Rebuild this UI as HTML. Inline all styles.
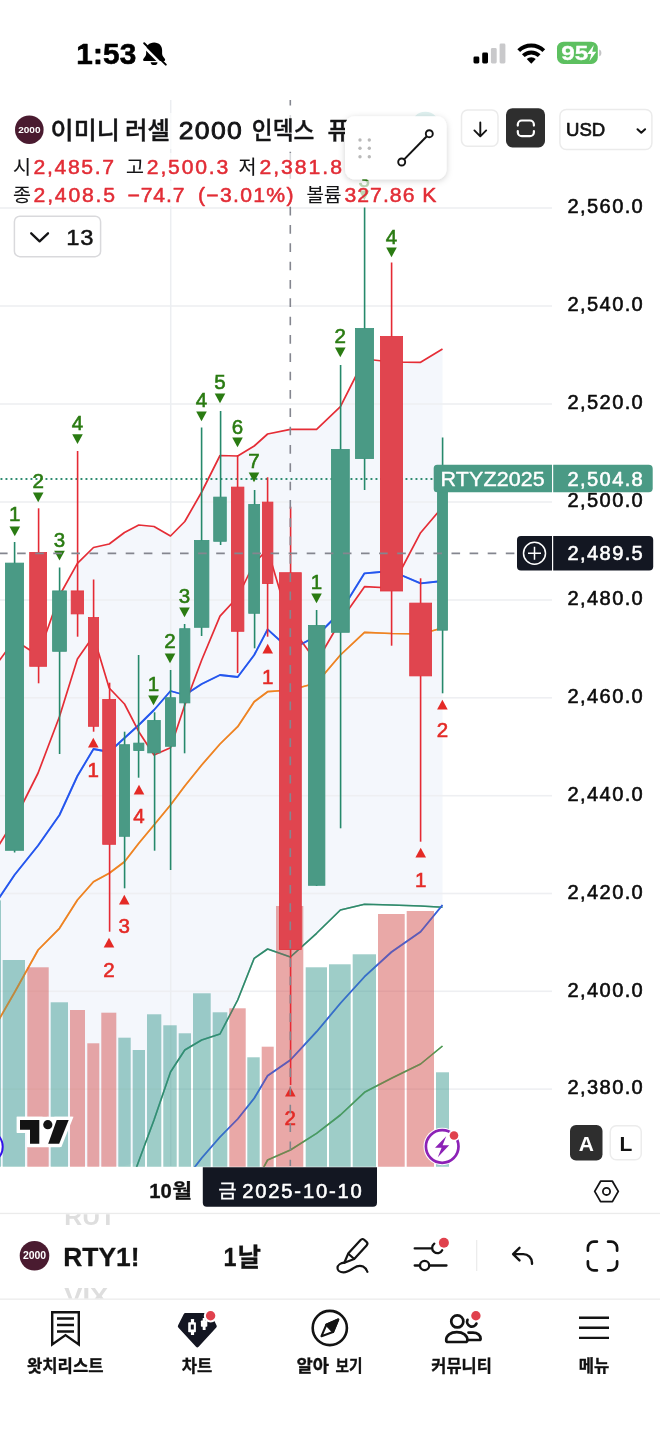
<!DOCTYPE html>
<html lang="ko">
<head>
<meta charset="utf-8">
<title>RTY1! 차트</title>
<style>
html,body{margin:0;padding:0;background:#fff;}
body{width:660px;height:1435px;overflow:hidden;position:relative;font-family:"Liberation Sans", "Noto Sans CJK KR", sans-serif;color:#131722;}
#app{position:absolute;left:0;top:0;width:660px;height:1435px;overflow:hidden;background:#fff;}
svg text{font-family:"Liberation Sans", "Noto Sans CJK KR", sans-serif;}
.abs{position:absolute;}
#chart{position:absolute;left:0;top:0;width:660px;height:1435px;}
</style>
</head>
<body>
<div id="app">
<svg id="chart" width="660" height="1435" viewBox="0 0 660 1435">
<defs>
<clipPath id="plot"><rect x="0" y="100" width="660" height="1066.7"/></clipPath>
<clipPath id="tbclip"><rect x="0" y="1214.2" width="660" height="84.3"/></clipPath>
<filter id="sh" x="-20%" y="-20%" width="140%" height="150%"><feDropShadow dx="0" dy="1.5" stdDeviation="3" flood-color="#000" flood-opacity="0.18"/></filter>
</defs>
<g clip-path="url(#plot)">
<polygon points="-1.0,661.0 14.5,640.0 38.1,655.5 59.5,595.5 77.4,563.3 93.5,547.5 109.2,544.0 124.5,532.5 138.8,525.0 154.0,526.5 170.5,536.0 184.8,521.5 201.7,492.0 220.0,455.5 237.7,456.0 254.2,446.0 267.6,434.0 290.4,429.3 316.6,429.3 340.4,406.7 364.5,359.0 391.5,362.0 420.6,362.3 442.5,349.0 442.5,907.3 420.6,906.0 391.5,905.0 364.5,904.3 340.4,910.0 316.6,933.3 290.4,957.0 267.6,949.0 254.2,958.3 237.7,1000.0 220.0,1034.0 201.7,1040.0 184.8,1050.0 170.5,1072.0 154.0,1120.0 138.8,1161.0 124.5,1166.0 -1.0,1166.0" fill="#f4f7fc"/>
<rect x="0" y="207.2" width="552" height="1.6" fill="#eeeff2"/>
<rect x="0" y="305.2" width="552" height="1.6" fill="#eeeff2"/>
<rect x="0" y="403.2" width="552" height="1.6" fill="#eeeff2"/>
<rect x="0" y="501.2" width="552" height="1.6" fill="#eeeff2"/>
<rect x="0" y="599.2" width="552" height="1.6" fill="#eeeff2"/>
<rect x="0" y="697.0" width="552" height="1.6" fill="#eeeff2"/>
<rect x="0" y="794.9000000000001" width="552" height="1.6" fill="#eeeff2"/>
<rect x="0" y="892.7" width="552" height="1.6" fill="#eeeff2"/>
<rect x="0" y="990.5" width="552" height="1.6" fill="#eeeff2"/>
<rect x="0" y="1088.3" width="552" height="1.6" fill="#eeeff2"/>
<rect x="169.95" y="100" width="1.5" height="1066" fill="#eceef1"/>
<polyline points="124.5,1200.0 138.8,1161.0 154.0,1120.0 170.5,1072.0 184.8,1050.0 201.7,1040.0 220.0,1034.0 237.7,1000.0 254.2,958.3 267.6,949.0 290.4,957.0 316.6,933.3 340.4,910.0 364.5,904.3 391.5,905.0 420.6,906.0 442.5,907.3" fill="none" stroke="#2f8a6b" stroke-width="1.6" stroke-linejoin="round"/>
<polyline points="184.8,1180.0 201.7,1158.0 220.0,1137.0 237.7,1119.0 254.2,1098.3 267.6,1075.7 290.4,1060.0 316.6,1031.7 340.4,1003.3 364.5,976.7 391.5,952.0 420.6,931.7 442.5,905.0" fill="none" stroke="#3560dc" stroke-width="1.7" stroke-linejoin="round"/>
<polyline points="254.2,1185.0 267.6,1160.0 290.4,1150.0 316.6,1133.3 340.4,1115.0 364.5,1092.3 391.5,1078.3 420.6,1064.0 442.5,1046.0" fill="none" stroke="#4d9a52" stroke-width="1.6" stroke-linejoin="round"/>
<polyline points="-1.0,1019.5 14.5,992.5 38.1,950.0 59.5,928.3 77.4,900.0 93.5,881.7 109.2,873.3 124.5,861.7 138.8,843.3 154.0,825.0 170.5,805.0 184.8,786.0 201.7,765.0 220.0,744.0 237.7,726.7 254.2,701.7 267.6,691.7 290.4,690.0 316.6,683.0 340.4,655.0 364.5,632.3 391.5,633.5 420.6,634.0 442.5,628.0" fill="none" stroke="#ee8322" stroke-width="1.7" stroke-linejoin="round"/>
<polyline points="-1.0,898.0 14.5,875.0 38.1,845.5 59.5,815.0 77.4,776.0 93.5,749.0 109.2,752.0 124.5,738.0 138.8,725.0 154.0,710.0 170.5,691.0 184.8,695.0 201.7,684.0 220.0,675.0 237.7,677.0 254.2,655.0 267.6,629.3 290.4,650.0 316.6,636.0 340.4,612.0 364.5,573.3 391.5,571.0 420.6,583.3 442.5,581.0" fill="none" stroke="#2456ee" stroke-width="1.8" stroke-linejoin="round"/>
<polyline points="-1.0,845.0 14.5,820.0 38.1,773.0 59.5,716.5 77.4,659.0 93.5,636.0 109.2,688.0 124.5,704.0 138.8,731.7 154.0,755.0 170.5,747.7 184.8,705.0 201.7,660.0 220.0,616.2 237.7,597.0 254.2,563.0 267.6,549.5 290.4,626.0 316.6,662.0 340.4,621.0 364.5,586.7 391.5,588.0 420.6,532.7 442.5,507.0" fill="none" stroke="#e52d36" stroke-width="1.7" stroke-linejoin="round"/>
<polyline points="-1.0,661.0 14.5,640.0 38.1,655.5 59.5,595.5 77.4,563.3 93.5,547.5 109.2,544.0 124.5,532.5 138.8,525.0 154.0,526.5 170.5,536.0 184.8,521.5 201.7,492.0 220.0,455.5 237.7,456.0 254.2,446.0 267.6,434.0 290.4,429.3 316.6,429.3 340.4,406.7 364.5,359.0 391.5,362.0 420.6,362.3 442.5,349.0" fill="none" stroke="#e52d36" stroke-width="1.7" stroke-linejoin="round"/>
<rect x="2.7" y="960" width="22.3" height="207.0" fill="#3d9b91" fill-opacity="0.5"/>
<rect x="27.3" y="967.3" width="21.4" height="199.7" fill="#d3514f" fill-opacity="0.5"/>
<rect x="50.7" y="1002.3" width="17.3" height="164.7" fill="#3d9b91" fill-opacity="0.5"/>
<rect x="70" y="1010" width="15.0" height="157.0" fill="#d3514f" fill-opacity="0.5"/>
<rect x="87.3" y="1043.3" width="12.0" height="123.7" fill="#d3514f" fill-opacity="0.5"/>
<rect x="101.3" y="1012.7" width="15.0" height="154.3" fill="#d3514f" fill-opacity="0.5"/>
<rect x="118.3" y="1037.7" width="12.4" height="129.3" fill="#3d9b91" fill-opacity="0.5"/>
<rect x="132.7" y="1050" width="12.3" height="117.0" fill="#3d9b91" fill-opacity="0.5"/>
<rect x="147" y="1014.3" width="14.3" height="152.7" fill="#3d9b91" fill-opacity="0.5"/>
<rect x="163.3" y="1025.3" width="13.4" height="141.7" fill="#3d9b91" fill-opacity="0.5"/>
<rect x="178.7" y="1033.3" width="12.3" height="133.7" fill="#3d9b91" fill-opacity="0.5"/>
<rect x="193" y="993.3" width="17.7" height="173.7" fill="#3d9b91" fill-opacity="0.5"/>
<rect x="212.7" y="1012.3" width="14.6" height="154.7" fill="#3d9b91" fill-opacity="0.5"/>
<rect x="229.3" y="1008.3" width="16.4" height="158.7" fill="#d3514f" fill-opacity="0.5"/>
<rect x="247.3" y="1057.3" width="12.4" height="109.7" fill="#3d9b91" fill-opacity="0.5"/>
<rect x="261.7" y="1046.7" width="12.0" height="120.3" fill="#d3514f" fill-opacity="0.5"/>
<rect x="276" y="906" width="27.3" height="261.0" fill="#d3514f" fill-opacity="0.5"/>
<rect x="305.7" y="967.3" width="21.3" height="199.7" fill="#3d9b91" fill-opacity="0.5"/>
<rect x="329" y="964.3" width="21.7" height="202.7" fill="#3d9b91" fill-opacity="0.5"/>
<rect x="352.7" y="954.3" width="23.3" height="212.7" fill="#3d9b91" fill-opacity="0.5"/>
<rect x="378" y="914" width="26.7" height="253.0" fill="#d3514f" fill-opacity="0.5"/>
<rect x="406.7" y="911" width="27.3" height="256.0" fill="#d3514f" fill-opacity="0.5"/>
<rect x="436" y="1072.3" width="13.0" height="94.7" fill="#3d9b91" fill-opacity="0.5"/>
<rect x="0" y="900.4" width="1" height="266.6" fill="#3d9b91" fill-opacity="0.5"/>
<g opacity="0.5">
<polyline points="124.5,1200.0 138.8,1161.0 154.0,1120.0 170.5,1072.0 184.8,1050.0 201.7,1040.0 220.0,1034.0 237.7,1000.0 254.2,958.3 267.6,949.0 290.4,957.0 316.6,933.3 340.4,910.0 364.5,904.3 391.5,905.0 420.6,906.0 442.5,907.3" fill="none" stroke="#2f8a6b" stroke-width="1.6" stroke-linejoin="round"/>
<polyline points="184.8,1180.0 201.7,1158.0 220.0,1137.0 237.7,1119.0 254.2,1098.3 267.6,1075.7 290.4,1060.0 316.6,1031.7 340.4,1003.3 364.5,976.7 391.5,952.0 420.6,931.7 442.5,905.0" fill="none" stroke="#3560dc" stroke-width="1.7" stroke-linejoin="round"/>
<polyline points="254.2,1185.0 267.6,1160.0 290.4,1150.0 316.6,1133.3 340.4,1115.0 364.5,1092.3 391.5,1078.3 420.6,1064.0 442.5,1046.0" fill="none" stroke="#4d9a52" stroke-width="1.6" stroke-linejoin="round"/>
<polyline points="-1.0,1019.5 14.5,992.5 38.1,950.0 59.5,928.3 77.4,900.0 93.5,881.7 109.2,873.3 124.5,861.7 138.8,843.3 154.0,825.0 170.5,805.0 184.8,786.0 201.7,765.0 220.0,744.0 237.7,726.7 254.2,701.7 267.6,691.7 290.4,690.0 316.6,683.0 340.4,655.0 364.5,632.3 391.5,633.5 420.6,634.0 442.5,628.0" fill="none" stroke="#ee8322" stroke-width="1.7" stroke-linejoin="round"/>
<polyline points="-1.0,898.0 14.5,875.0 38.1,845.5 59.5,815.0 77.4,776.0 93.5,749.0 109.2,752.0 124.5,738.0 138.8,725.0 154.0,710.0 170.5,691.0 184.8,695.0 201.7,684.0 220.0,675.0 237.7,677.0 254.2,655.0 267.6,629.3 290.4,650.0 316.6,636.0 340.4,612.0 364.5,573.3 391.5,571.0 420.6,583.3 442.5,581.0" fill="none" stroke="#2456ee" stroke-width="1.8" stroke-linejoin="round"/>
</g>
<line x1="0.5" y1="479" x2="436" y2="479" stroke="#2f8b70" stroke-width="1.8" stroke-dasharray="1.9 3.1"/>
<rect x="13.80" y="542" width="1.6" height="310.5" fill="#26896b"/>
<rect x="5.40" y="563.10" width="18.2" height="287.2" fill="#4a9a85" stroke="#3d947c" stroke-width="0.8"/>
<rect x="37.80" y="508.3" width="1.6" height="175.0" fill="#e52a34"/>
<rect x="29.70" y="552.40" width="16.9" height="113.9" fill="#e0454f" stroke="#e3343e" stroke-width="0.8"/>
<rect x="58.80" y="567.5" width="1.6" height="186.5" fill="#26896b"/>
<rect x="52.60" y="590.90" width="13.8" height="60.4" fill="#4a9a85" stroke="#3d947c" stroke-width="0.8"/>
<rect x="76.80" y="451" width="1.6" height="185.7" fill="#e52a34"/>
<rect x="71.20" y="590.90" width="12.4" height="23.0" fill="#e0454f" stroke="#e3343e" stroke-width="0.8"/>
<rect x="92.80" y="579.5" width="1.6" height="152.2" fill="#e52a34"/>
<rect x="88.40" y="617.60" width="10.2" height="108.7" fill="#e0454f" stroke="#e3343e" stroke-width="0.8"/>
<rect x="108.80" y="682.7" width="1.6" height="249.0" fill="#e52a34"/>
<rect x="102.70" y="699.40" width="12.9" height="144.9" fill="#e0454f" stroke="#e3343e" stroke-width="0.8"/>
<rect x="123.80" y="731.7" width="1.6" height="156.6" fill="#26896b"/>
<rect x="119.40" y="744.70" width="10.2" height="91.6" fill="#4a9a85" stroke="#3d947c" stroke-width="0.8"/>
<rect x="137.80" y="655" width="1.6" height="122.7" fill="#26896b"/>
<rect x="133.70" y="743.10" width="10.2" height="7.5" fill="#4a9a85" stroke="#3d947c" stroke-width="0.8"/>
<rect x="153.80" y="712.3" width="1.6" height="138.4" fill="#26896b"/>
<rect x="147.70" y="720.40" width="12.6" height="32.5" fill="#4a9a85" stroke="#3d947c" stroke-width="0.8"/>
<rect x="169.80" y="670" width="1.6" height="200.0" fill="#26896b"/>
<rect x="165.40" y="697.70" width="10.2" height="48.6" fill="#4a9a85" stroke="#3d947c" stroke-width="0.8"/>
<rect x="183.80" y="624" width="1.6" height="129.3" fill="#26896b"/>
<rect x="179.70" y="628.70" width="10.2" height="74.2" fill="#4a9a85" stroke="#3d947c" stroke-width="0.8"/>
<rect x="200.80" y="427.5" width="1.6" height="208.5" fill="#26896b"/>
<rect x="194.40" y="540.40" width="14.5" height="86.9" fill="#4a9a85" stroke="#3d947c" stroke-width="0.8"/>
<rect x="219.80" y="411" width="1.6" height="134.0" fill="#26896b"/>
<rect x="213.70" y="497.10" width="12.6" height="44.2" fill="#4a9a85" stroke="#3d947c" stroke-width="0.8"/>
<rect x="236.80" y="455" width="1.6" height="218.0" fill="#e52a34"/>
<rect x="231.40" y="487.10" width="12.5" height="144.2" fill="#e0454f" stroke="#e3343e" stroke-width="0.8"/>
<rect x="253.80" y="490" width="1.6" height="158.3" fill="#26896b"/>
<rect x="248.70" y="504.40" width="10.9" height="108.9" fill="#4a9a85" stroke="#3d947c" stroke-width="0.8"/>
<rect x="266.80" y="477.3" width="1.6" height="159.4" fill="#e52a34"/>
<rect x="262.40" y="502.10" width="10.5" height="81.5" fill="#e0454f" stroke="#e3343e" stroke-width="0.8"/>
<rect x="289.80" y="506.7" width="1.6" height="578.3" fill="#e52a34"/>
<rect x="279.40" y="572.70" width="21.9" height="376.9" fill="#e0454f" stroke="#e3343e" stroke-width="0.8"/>
<rect x="315.80" y="610" width="1.6" height="276.0" fill="#26896b"/>
<rect x="308.40" y="625.40" width="16.5" height="259.9" fill="#4a9a85" stroke="#3d947c" stroke-width="0.8"/>
<rect x="339.80" y="365" width="1.6" height="463.3" fill="#26896b"/>
<rect x="331.40" y="449.40" width="17.9" height="182.9" fill="#4a9a85" stroke="#3d947c" stroke-width="0.8"/>
<rect x="363.80" y="207.5" width="1.6" height="282.5" fill="#26896b"/>
<rect x="355.40" y="328.40" width="18.2" height="130.2" fill="#4a9a85" stroke="#3d947c" stroke-width="0.8"/>
<rect x="390.80" y="262.5" width="1.6" height="383.2" fill="#e52a34"/>
<rect x="380.40" y="336.40" width="22.2" height="254.6" fill="#e0454f" stroke="#e3343e" stroke-width="0.8"/>
<rect x="419.80" y="578.3" width="1.6" height="263.4" fill="#e52a34"/>
<rect x="409.70" y="603.10" width="21.9" height="72.8" fill="#e0454f" stroke="#e3343e" stroke-width="0.8"/>
<rect x="441.80" y="437.5" width="1.6" height="255.8" fill="#26896b"/>
<rect x="437.50" y="479.40" width="10.0" height="150.8" fill="#4a9a85" stroke="#3d947c" stroke-width="0.8"/>
<text x="14.8" y="521.4000000000001" text-anchor="middle" font-size="20.5" fill="#2a7b12" stroke="#2a7b12" stroke-width="0.6" class="td">1</text>
<polygon points="9.5,526.4 20.1,526.4 14.8,536.2" fill="#2a7b12"/>
<text x="38.2" y="487.8" text-anchor="middle" font-size="20.5" fill="#2a7b12" stroke="#2a7b12" stroke-width="0.6" class="td">2</text>
<polygon points="32.900000000000006,492.4 43.5,492.4 38.2,502.2" fill="#2a7b12"/>
<text x="59.5" y="547.2" text-anchor="middle" font-size="20.5" fill="#2a7b12" stroke="#2a7b12" stroke-width="0.6" class="td">3</text>
<polygon points="54.2,550.8 64.8,550.8 59.5,560.6" fill="#2a7b12"/>
<text x="77.5" y="430.4" text-anchor="middle" font-size="20.5" fill="#2a7b12" stroke="#2a7b12" stroke-width="0.6" class="td">4</text>
<polygon points="72.2,434.2 82.8,434.2 77.5,444.0" fill="#2a7b12"/>
<text x="153.5" y="691.2" text-anchor="middle" font-size="20.5" fill="#2a7b12" stroke="#2a7b12" stroke-width="0.6" class="td">1</text>
<polygon points="148.2,695.4 158.8,695.4 153.5,705.2" fill="#2a7b12"/>
<text x="170" y="648.2" text-anchor="middle" font-size="20.5" fill="#2a7b12" stroke="#2a7b12" stroke-width="0.6" class="td">2</text>
<polygon points="164.7,653.4 175.3,653.4 170,663.2" fill="#2a7b12"/>
<text x="184.5" y="603.2" text-anchor="middle" font-size="20.5" fill="#2a7b12" stroke="#2a7b12" stroke-width="0.6" class="td">3</text>
<polygon points="179.2,607.4 189.8,607.4 184.5,617.2" fill="#2a7b12"/>
<text x="201.5" y="407.2" text-anchor="middle" font-size="20.5" fill="#2a7b12" stroke="#2a7b12" stroke-width="0.6" class="td">4</text>
<polygon points="196.2,411.4 206.8,411.4 201.5,421.2" fill="#2a7b12"/>
<text x="220" y="389.2" text-anchor="middle" font-size="20.5" fill="#2a7b12" stroke="#2a7b12" stroke-width="0.6" class="td">5</text>
<polygon points="214.7,393.4 225.3,393.4 220,403.2" fill="#2a7b12"/>
<text x="237.5" y="434.2" text-anchor="middle" font-size="20.5" fill="#2a7b12" stroke="#2a7b12" stroke-width="0.6" class="td">6</text>
<polygon points="232.2,437.4 242.8,437.4 237.5,447.2" fill="#2a7b12"/>
<text x="254" y="468.2" text-anchor="middle" font-size="20.5" fill="#2a7b12" stroke="#2a7b12" stroke-width="0.6" class="td">7</text>
<polygon points="248.7,472.4 259.3,472.4 254,482.2" fill="#2a7b12"/>
<text x="316.5" y="589.2" text-anchor="middle" font-size="20.5" fill="#2a7b12" stroke="#2a7b12" stroke-width="0.6" class="td">1</text>
<polygon points="311.2,593.4 321.8,593.4 316.5,603.2" fill="#2a7b12"/>
<text x="340.3" y="343.2" text-anchor="middle" font-size="20.5" fill="#2a7b12" stroke="#2a7b12" stroke-width="0.6" class="td">2</text>
<polygon points="335.0,347.4 345.6,347.4 340.3,357.2" fill="#2a7b12"/>
<text x="364.3" y="187.2" text-anchor="middle" font-size="20.5" fill="#2a7b12" stroke="#2a7b12" stroke-width="0.6" class="td">3</text>
<polygon points="359.0,190.4 369.6,190.4 364.3,200.2" fill="#2a7b12"/>
<text x="391.5" y="244.2" text-anchor="middle" font-size="20.5" fill="#2a7b12" stroke="#2a7b12" stroke-width="0.6" class="td">4</text>
<polygon points="386.2,247.4 396.8,247.4 391.5,257.2" fill="#2a7b12"/>
<polygon points="88.0,747.6 98.6,747.6 93.3,737.8" fill="#e42a26"/>
<text x="93.3" y="777.2" text-anchor="middle" font-size="20.5" fill="#e42a26" stroke="#e42a26" stroke-width="0.6" class="td">1</text>
<polygon points="103.7,947.6 114.3,947.6 109,937.8" fill="#e42a26"/>
<text x="109" y="977.2" text-anchor="middle" font-size="20.5" fill="#e42a26" stroke="#e42a26" stroke-width="0.6" class="td">2</text>
<polygon points="119.0,904.6 129.6,904.6 124.3,894.8" fill="#e42a26"/>
<text x="124.3" y="933.2" text-anchor="middle" font-size="20.5" fill="#e42a26" stroke="#e42a26" stroke-width="0.6" class="td">3</text>
<polygon points="133.7,794.6 144.3,794.6 139,784.8" fill="#e42a26"/>
<text x="139" y="823.2" text-anchor="middle" font-size="20.5" fill="#e42a26" stroke="#e42a26" stroke-width="0.6" class="td">4</text>
<polygon points="262.4,653.6 273.0,653.6 267.7,643.8" fill="#e42a26"/>
<text x="267.7" y="684.2" text-anchor="middle" font-size="20.5" fill="#e42a26" stroke="#e42a26" stroke-width="0.6" class="td">1</text>
<polygon points="285.0,1096.6 295.6,1096.6 290.3,1086.8" fill="#e42a26"/>
<text x="290.3" y="1125.2" text-anchor="middle" font-size="20.5" fill="#e42a26" stroke="#e42a26" stroke-width="0.6" class="td">2</text>
<polygon points="415.4,857.6 426.0,857.6 420.7,847.8" fill="#e42a26"/>
<text x="420.7" y="887.2" text-anchor="middle" font-size="20.5" fill="#e42a26" stroke="#e42a26" stroke-width="0.6" class="td">1</text>
<polygon points="437.09999999999997,709.6 447.7,709.6 442.4,699.8" fill="#e42a26"/>
<text x="442.4" y="737.2" text-anchor="middle" font-size="20.5" fill="#e42a26" stroke="#e42a26" stroke-width="0.6" class="td">2</text>
<line x1="290.3" y1="96.7" x2="290.3" y2="1166" stroke="#84868f" stroke-width="1.6" stroke-dasharray="8.7 9.63"/>
<line x1="-1" y1="553.4" x2="517" y2="553.4" stroke="#84868f" stroke-width="1.6" stroke-dasharray="8.6 9.5"/>
</g>
<!--AXIS-->
<text transform="translate(567.6,213.3) scale(1.03,1)" font-size="19.5" fill="#0c0c0c" stroke="#0c0c0c" stroke-width="0.55" stroke-linejoin="round" textLength="73.01" lengthAdjust="spacing" >2,560.0</text>
<text transform="translate(567.6,311.3) scale(1.03,1)" font-size="19.5" fill="#0c0c0c" stroke="#0c0c0c" stroke-width="0.55" stroke-linejoin="round" textLength="73.01" lengthAdjust="spacing" >2,540.0</text>
<text transform="translate(567.6,409.3) scale(1.03,1)" font-size="19.5" fill="#0c0c0c" stroke="#0c0c0c" stroke-width="0.55" stroke-linejoin="round" textLength="73.01" lengthAdjust="spacing" >2,520.0</text>
<text transform="translate(567.6,507.3) scale(1.03,1)" font-size="19.5" fill="#0c0c0c" stroke="#0c0c0c" stroke-width="0.55" stroke-linejoin="round" textLength="73.01" lengthAdjust="spacing" >2,500.0</text>
<text transform="translate(567.6,605.3) scale(1.03,1)" font-size="19.5" fill="#0c0c0c" stroke="#0c0c0c" stroke-width="0.55" stroke-linejoin="round" textLength="73.01" lengthAdjust="spacing" >2,480.0</text>
<text transform="translate(567.6,703.0999999999999) scale(1.03,1)" font-size="19.5" fill="#0c0c0c" stroke="#0c0c0c" stroke-width="0.55" stroke-linejoin="round" textLength="73.01" lengthAdjust="spacing" >2,460.0</text>
<text transform="translate(567.6,801.0) scale(1.03,1)" font-size="19.5" fill="#0c0c0c" stroke="#0c0c0c" stroke-width="0.55" stroke-linejoin="round" textLength="73.01" lengthAdjust="spacing" >2,440.0</text>
<text transform="translate(567.6,898.8) scale(1.03,1)" font-size="19.5" fill="#0c0c0c" stroke="#0c0c0c" stroke-width="0.55" stroke-linejoin="round" textLength="73.01" lengthAdjust="spacing" >2,420.0</text>
<text transform="translate(567.6,996.5999999999999) scale(1.03,1)" font-size="19.5" fill="#0c0c0c" stroke="#0c0c0c" stroke-width="0.55" stroke-linejoin="round" textLength="73.01" lengthAdjust="spacing" >2,400.0</text>
<text transform="translate(567.6,1094.3999999999999) scale(1.03,1)" font-size="19.5" fill="#0c0c0c" stroke="#0c0c0c" stroke-width="0.55" stroke-linejoin="round" textLength="73.01" lengthAdjust="spacing" >2,380.0</text>
<text transform="translate(76.2,63.7) scale(1.04,1)" font-size="28.6" fill="#000" stroke="#000" stroke-width="0.6" stroke-linejoin="round" font-weight="bold" textLength="57.69" lengthAdjust="spacing" >1:53</text>
<g transform="translate(140.45,40.34) scale(1.14,1.03)" fill="#000">
<path d="M12 2C7.5 2 5 5.5 5 9.500V13c0 2-1.500 3.500-2.500 5-.5 1 0 2 1.300 2H20.200c1.300 0 1.800-1 1.300-2-1-1.500-2.500-3-2.500-5V9.500C19 5.500 16.500 2 12 2z"/>
<path d="M9 21.200h6c0 1.800-1.300 2.800-3 2.800s-3-1-3-2.800z"/>
</g>
<path d="M142.600 45.300L163.800 66.600" stroke="#fff" stroke-width="2.600" fill="none"/>
<path d="M144.200 43.300L165.800 64.600" stroke="#000" stroke-width="2" fill="none" stroke-linecap="round"/>
<rect x="473.5" y="56.5" width="5.8" height="7" rx="1.4" fill="#000"/>
<rect x="482.2" y="52.5" width="5.8" height="11" rx="1.4" fill="#000"/>
<rect x="490.9" y="48" width="5.8" height="15.500" rx="1.4" fill="#c9c9cb"/>
<rect x="499.600" y="43.5" width="5.8" height="20" rx="1.4" fill="#c9c9cb"/>
<g fill="none" stroke="#000" stroke-linecap="butt">
<path d="M518.700 50.700a17.800 17.800 0 0 1 25.100 0" stroke-width="3.900"/>
<path d="M523.300 55.700a11.300 11.300 0 0 1 15.900 0" stroke-width="3.900"/>
</g>
<path d="M531.250 63.700l-4.500-4.600a6.400 6.400 0 0 1 9 0z" fill="#000"/>
<rect x="557" y="41.700" width="40.800" height="22.300" rx="6.500" fill="#5dc060"/>
<path d="M599.200 49.500c1.500.5 2.200 1.800 2.200 3.400s-.7 2.900-2.200 3.400z" fill="#c4c4c6"/>
<text x="561.2" y="60.2" font-size="20" fill="#fff" stroke="#fff" stroke-width="0.3" stroke-linejoin="round" font-weight="bold" textLength="27.00" lengthAdjust="spacingAndGlyphs" >95</text>
<path d="M593.800 45l-6.600 9h4l-1.700 7 6.800-9.300h-4.100z" fill="#fff"/>
<rect x="10" y="113" width="340" height="36" fill="#fff" opacity="0.68"/>
<rect x="10" y="153" width="340" height="26" fill="#fff" opacity="0.68"/>
<rect x="10" y="181" width="432" height="25" fill="#fff" opacity="0.68"/>
<circle cx="29.3" cy="129.7" r="14.3" fill="#4a1b30"/>
<text x="18.2" y="133.3" font-size="9.8" fill="#fff" font-weight="bold" textLength="22.30" lengthAdjust="spacingAndGlyphs" >2000</text>
<text x="50.6" y="139.3" font-size="24" fill="#141416" stroke="#141416" stroke-width="0.4" stroke-linejoin="round" font-weight="500" textLength="69.30" lengthAdjust="spacingAndGlyphs" >이미니</text>
<text x="125.1" y="139.3" font-size="24" fill="#141416" stroke="#141416" stroke-width="0.4" stroke-linejoin="round" font-weight="500" textLength="45.00" lengthAdjust="spacingAndGlyphs" >러셀</text>
<text transform="translate(178.8,139.2) scale(1.08,1)" font-size="24.6" fill="#141416" stroke="#141416" stroke-width="0.85" stroke-linejoin="round" textLength="58.33" lengthAdjust="spacing" >2000</text>
<text x="251.8" y="139.3" font-size="24" fill="#141416" stroke="#141416" stroke-width="0.4" stroke-linejoin="round" font-weight="500" textLength="62.50" lengthAdjust="spacingAndGlyphs" >인덱스</text>
<text x="327.5" y="139.3" font-size="24" fill="#141416" stroke="#141416" stroke-width="0.4" stroke-linejoin="round" font-weight="500" textLength="22.30" lengthAdjust="spacingAndGlyphs" >퓨</text>
<text x="13" y="173.7" font-size="19.5" fill="#141416" stroke="#141416" stroke-width="0.15" stroke-linejoin="round" textLength="18.00" lengthAdjust="spacingAndGlyphs" >시</text>
<text transform="translate(33.6,173.7) scale(1.07,1)" font-size="19.8" fill="#e22d36" stroke="#e22d36" stroke-width="0.5" stroke-linejoin="round" textLength="75.23" lengthAdjust="spacing" >2,485.7</text>
<text x="126" y="173.7" font-size="19.5" fill="#141416" stroke="#141416" stroke-width="0.15" stroke-linejoin="round" textLength="18.00" lengthAdjust="spacingAndGlyphs" >고</text>
<text transform="translate(146.8,173.7) scale(1.07,1)" font-size="19.8" fill="#e22d36" stroke="#e22d36" stroke-width="0.5" stroke-linejoin="round" textLength="76.17" lengthAdjust="spacing" >2,500.3</text>
<text x="238.5" y="173.7" font-size="19.5" fill="#141416" stroke="#141416" stroke-width="0.15" stroke-linejoin="round" textLength="18.00" lengthAdjust="spacingAndGlyphs" >저</text>
<text transform="translate(259.5,173.7) scale(1.07,1)" font-size="19.8" fill="#e22d36" stroke="#e22d36" stroke-width="0.5" stroke-linejoin="round" textLength="77.10" lengthAdjust="spacing" >2,381.8</text>
<text x="13" y="201.8" font-size="19.5" fill="#141416" stroke="#141416" stroke-width="0.15" stroke-linejoin="round" textLength="18.00" lengthAdjust="spacingAndGlyphs" >종</text>
<text transform="translate(33.6,201.8) scale(1.07,1)" font-size="19.8" fill="#e22d36" stroke="#e22d36" stroke-width="0.5" stroke-linejoin="round" textLength="76.17" lengthAdjust="spacing" >2,408.5</text>
<text transform="translate(127.5,201.8) scale(1.07,1)" font-size="19.8" fill="#e22d36" stroke="#e22d36" stroke-width="0.5" stroke-linejoin="round" textLength="53.27" lengthAdjust="spacing" >−74.7</text>
<text transform="translate(198,201.8) scale(1.07,1)" font-size="19.8" fill="#e22d36" stroke="#e22d36" stroke-width="0.5" stroke-linejoin="round" textLength="89.25" lengthAdjust="spacing" >(−3.01%)</text>
<text x="306.5" y="201.8" font-size="19.5" fill="#141416" stroke="#141416" stroke-width="0.15" stroke-linejoin="round" textLength="35.00" lengthAdjust="spacingAndGlyphs" >볼륨</text>
<text transform="translate(344.5,201.8) scale(1.07,1)" font-size="19.8" fill="#e22d36" stroke="#e22d36" stroke-width="0.5" stroke-linejoin="round" textLength="85.98" lengthAdjust="spacing" >327.86 K</text>
<rect x="14.400" y="216.200" width="86.200" height="40.500" rx="5.500" fill="#fff" stroke="#d9d9dc" stroke-width="1.500"/>
<path d="M31.200 233.300l8.400 8 8.400-8" fill="none" stroke="#141416" stroke-width="2.300" stroke-linecap="round" stroke-linejoin="round"/>
<text transform="translate(66.2,244.5) scale(1.05,1)" font-size="22.6" fill="#131313" stroke="#131313" stroke-width="0.5" stroke-linejoin="round" textLength="26.00" lengthAdjust="spacing" >13</text>
<path d="M437.2 464.8h114.8v27.5h-114.8a3.5 3.5 0 0 1-3.5-3.5v-20.5a3.5 3.5 0 0 1 3.5-3.5z" fill="#4a9a85"/>
<path d="M553.200 464.8h95.500a4 4 0 0 1 4 4v19.5a4 4 0 0 1-4 4h-95.500z" fill="#4a9a85"/>
<text transform="translate(440.5,485.8) scale(1.1,1)" font-size="19.5" fill="#fff" stroke="#fff" stroke-width="0.4" stroke-linejoin="round" textLength="94.82" lengthAdjust="spacing" >RTYZ2025</text>
<text transform="translate(567.6,485.8) scale(1.03,1)" font-size="19.5" fill="#fff" stroke="#fff" stroke-width="0.55" stroke-linejoin="round" textLength="73.01" lengthAdjust="spacing" >2,504.8</text>
<path d="M521 536h31v34.5h-31a4 4 0 0 1-4-4v-26.5a4 4 0 0 1 4-4z" fill="#131722"/>
<path d="M553.200 536h96a4 4 0 0 1 4 4v26.5a4 4 0 0 1-4 4h-96z" fill="#131722"/>
<circle cx="534.500" cy="553.200" r="11" fill="none" stroke="#fff" stroke-width="1.500"/>
<path d="M528 553.200h13M534.500 546.700v13" stroke="#fff" stroke-width="1.500" fill="none"/>
<text transform="translate(567.6,560.0) scale(1.03,1)" font-size="19.5" fill="#fff" stroke="#fff" stroke-width="0.55" stroke-linejoin="round" textLength="73.01" lengthAdjust="spacing" >2,489.5</text>
<circle cx="-13.900" cy="1146.700" r="16.600" fill="#fff" stroke="#3212ea" stroke-width="2"/>
<path d="M16.800 1116.800h55.800l-12.400 30.500h-32.800v-15h-10.600z" fill="#fff"/>
<g stroke="#fff" stroke-width="6.500" stroke-linejoin="miter" fill="#fff">
<path d="M20 1120h19.300v23.700h-9.300v-14h-10z"/>
<circle cx="47.800" cy="1124.700" r="4.600"/>
<path d="M56.700 1120h12l-9.500 23.700h-11z"/>
</g>
<g fill="#131313">
<path d="M20 1120h19.300v23.700h-9.300v-14h-10z"/>
<circle cx="47.800" cy="1124.700" r="4.600"/>
<path d="M56.700 1120h12l-9.500 23.700h-11z"/>
</g>
<circle cx="442.2" cy="1146.500" r="18.700" fill="#fff"/>
<circle cx="442.2" cy="1146.500" r="16.300" fill="#fff" stroke="#8c22b6" stroke-width="2.700"/>
<path d="M446.200 1136.200l-11.200 11.600h6.600l-3.800 9.400 11.400-12h-6.600z" fill="#8c22b6"/>
<circle cx="454" cy="1135.500" r="5.800" fill="#fff"/>
<circle cx="454" cy="1135.500" r="4.300" fill="#e0414d"/>
<rect x="570" y="1125" width="32.500" height="35.500" rx="6" fill="#2e2e2e"/>
<text x="586.250" y="1150.500" text-anchor="middle" font-size="21" font-weight="bold" fill="#fff">A</text>
<rect x="610.250" y="1125.750" width="31" height="34" rx="6" fill="#fff" stroke="#ececec" stroke-width="1.500"/>
<text x="626" y="1150.500" text-anchor="middle" font-size="21" font-weight="bold" fill="#131313">L</text>
<text x="149.2" y="1198" font-size="19.5" fill="#131313" stroke="#131313" stroke-width="0.3" stroke-linejoin="round" font-weight="bold" textLength="22.50" lengthAdjust="spacingAndGlyphs" >10</text>
<text x="172.3" y="1198.3" font-size="19.5" fill="#131313" stroke="#131313" stroke-width="0.3" stroke-linejoin="round" font-weight="bold" textLength="19.80" lengthAdjust="spacingAndGlyphs" >월</text>
<path d="M202.800 1167.300h174.200v35.400a4 4 0 0 1-4 4h-166.200a4 4 0 0 1-4-4z" fill="#131722"/>
<text x="218.3" y="1198.2" font-size="19.5" fill="#fff" stroke="#fff" stroke-width="0.3" stroke-linejoin="round" textLength="18.50" lengthAdjust="spacingAndGlyphs" >금</text>
<text transform="translate(242.2,1198) scale(1.03,1)" font-size="19.6" fill="#fff" stroke="#fff" stroke-width="0.55" stroke-linejoin="round" textLength="116.12" lengthAdjust="spacing" >2025-10-10</text>
<path d="M594.700 1191.400l5.900-10.200h11.800l5.900 10.200-5.900 10.200h-11.800z" fill="none" stroke="#141416" stroke-width="1.800" stroke-linejoin="round"/>
<circle cx="606.500" cy="1191.400" r="3.600" fill="none" stroke="#141416" stroke-width="1.800"/>
<rect x="0" y="1212.800" width="660" height="1.300" fill="#ebebeb"/>
<rect x="0" y="1298.500" width="660" height="1.300" fill="#ebebeb"/>
<g clip-path="url(#tbclip)">
<text x="64.3" y="1224.6" font-size="23" fill="#dedede" font-weight="bold" textLength="51.00" lengthAdjust="spacingAndGlyphs" >RUT</text>
<text x="64.3" y="1305.3" font-size="23" fill="#dedede" font-weight="bold" textLength="44.00" lengthAdjust="spacingAndGlyphs" >VIX</text>
</g>
<circle cx="34.500" cy="1255.700" r="14.800" fill="#4a1b30"/>
<text x="22.9" y="1259.4" font-size="10.2" fill="#fff" font-weight="bold" textLength="23.30" lengthAdjust="spacingAndGlyphs" >2000</text>
<text x="63.2" y="1265.6" font-size="25.5" fill="#131313" stroke="#131313" stroke-width="0.3" stroke-linejoin="round" font-weight="bold" textLength="76.30" lengthAdjust="spacingAndGlyphs" >RTY1!</text>
<text x="223.5" y="1265.6" font-size="25.5" fill="#131313" stroke="#131313" stroke-width="0.3" stroke-linejoin="round" font-weight="bold" textLength="13.00" lengthAdjust="spacingAndGlyphs" >1</text>
<text x="237.5" y="1266.2" font-size="25" fill="#131313" stroke="#131313" stroke-width="0.3" stroke-linejoin="round" font-weight="bold" textLength="23.50" lengthAdjust="spacingAndGlyphs" >날</text>
<g fill="none" stroke="#131313" stroke-width="2.200" stroke-linecap="round" stroke-linejoin="round">
<path d="M348.200 1253.600L360.600 1240Q362.300 1238.100 364.200 1239.800L366.500 1241.800Q368.300 1243.500 366.600 1245.400L354.200 1259L344.300 1262.800Z"/>
<path d="M348.600 1254l5.400 4.800"/>
<path d="M344.500 1262.700c-3.700.300-7 2.300-7 5.300 0 2.700 2.700 4.300 6 4.300 4.300 0 7-2.200 10-4.200 3.200-2.100 6.800-2.900 9.600-1.500 2 1 3.400 3 4.300 5.200"/>
</g>
<g fill="none" stroke="#131313" stroke-width="2.300" stroke-linecap="round">
<path d="M414.700 1248.400h16.800M414.700 1265.500h5M429.300 1265.500h17.200"/>
<path d="M434.300 1243.600a5.300 5.300 0 1 0 7.900 6.600"/>
<circle cx="424.600" cy="1265.500" r="4.600"/>
</g>
<circle cx="443.900" cy="1242.800" r="5" fill="#e0414d"/>
<rect x="476" y="1240" width="1.300" height="31" fill="#ececec"/>
<path d="M519.500 1247.800l-6.400 6.300 6.400 6.300M513.600 1254.100h9.700a8.700 8.700 0 0 1 8.700 8.700v.900" fill="none" stroke="#131313" stroke-width="2.400" stroke-linecap="round" stroke-linejoin="round"/>
<g fill="none" stroke="#131313" stroke-width="2.700" stroke-linecap="round">
<path d="M587.900 1250.700v-3a6 6 0 0 1 6-6h3"/>
<path d="M608.100 1241.700h3a6 6 0 0 1 6 6v3"/>
<path d="M617.100 1261.400v3a6 6 0 0 1-6 6h-3"/>
<path d="M596.900 1270.400h-3a6 6 0 0 1-6-6v-3"/>
</g>
<g fill="none" stroke="#131313" stroke-width="2.400" stroke-linejoin="miter">
<path d="M52.200 1312.200h26.600v32.200l-13.300-9.300-13.300 9.300z"/>
<path d="M57 1318.500h17M57 1325h17M57 1331.500h17" stroke-width="2.300"/>
</g>
<text x="27" y="1372" font-size="17.5" fill="#111" stroke="#111" stroke-width="0.35" stroke-linejoin="round" font-weight="bold" textLength="76.50" lengthAdjust="spacingAndGlyphs" >왓치리스트</text>
<path d="M185.400 1313h24a1.800 1.800 0 0 1 1.600.900l5.600 11.600a1.800 1.800 0 0 1-.3 2l-17.700 19.200a1.800 1.800 0 0 1-2.600 0l-17.700-19.200a1.800 1.800 0 0 1-.3-2l5.800-11.600a1.800 1.800 0 0 1 1.600-.900z" fill="#141622"/>
<g fill="#fff">
<rect x="190.900" y="1319.100" width="3.200" height="16" rx="0.500"/><rect x="188.200" y="1322.300" width="7.700" height="10" rx="0.800"/>
<rect x="202.700" y="1318" width="2.900" height="12" rx="0.500"/><rect x="200.900" y="1320.500" width="6.400" height="6.300" rx="0.800"/>
</g>
<rect x="190.800" y="1324.600" width="3" height="4.900" fill="#141622"/>
<circle cx="210.600" cy="1315.700" r="6.800" fill="#fff"/><circle cx="210.600" cy="1315.700" r="4.700" fill="#e0414d"/>
<text x="181.7" y="1372" font-size="17.5" fill="#111" stroke="#111" stroke-width="0.35" stroke-linejoin="round" font-weight="bold" textLength="30.50" lengthAdjust="spacingAndGlyphs" >차트</text>
<circle cx="329.800" cy="1328" r="17.100" fill="none" stroke="#131313" stroke-width="2.600"/>
<path d="M338.200 1319.500L326.300 1324.800L321.500 1336.200L333 1332z" fill="#fff" stroke="#131313" stroke-width="2.100" stroke-linejoin="round"/>
<path d="M338.200 1319.500L326.300 1324.800L333 1332z" fill="#131313" stroke="#131313" stroke-width="2.100" stroke-linejoin="round"/>
<text x="296.5" y="1372" font-size="17.5" fill="#111" stroke="#111" stroke-width="0.35" stroke-linejoin="round" font-weight="bold" textLength="32.50" lengthAdjust="spacingAndGlyphs" >알아</text>
<text x="335.5" y="1372" font-size="17.5" fill="#111" stroke="#111" stroke-width="0.35" stroke-linejoin="round" font-weight="bold" textLength="27.00" lengthAdjust="spacingAndGlyphs" >보기</text>
<g fill="none" stroke="#131313" stroke-width="2.700" stroke-linejoin="round" stroke-linecap="round">
<path d="M468.500 1332.600h4.500c4.500 0 7.600 2.700 7.600 6.200v0a1.200 1.200 0 0 1-1.200 1.200h-11"/>
<path d="M467.500 1319.800a4.700 4.700 0 0 0 8.900 3.800"/>
<path d="M448 1342h17.600a1.800 1.800 0 0 0 1.800-1.800c0-4.800-4.300-8-10.600-8s-10.600 3.200-10.600 8a1.800 1.800 0 0 0 1.800 1.800z" fill="#fff"/>
<circle cx="457.300" cy="1321.400" r="6.050" fill="#fff"/>
</g>
<circle cx="475.900" cy="1315.700" r="5.600" fill="#fff"/><circle cx="475.900" cy="1315.700" r="4.700" fill="#e0414d"/>
<text x="431.3" y="1372" font-size="17.5" fill="#111" stroke="#111" stroke-width="0.35" stroke-linejoin="round" font-weight="bold" textLength="60.50" lengthAdjust="spacingAndGlyphs" >커뮤니티</text>
<path d="M579 1317.700h30M579 1327.800h30M579 1337.900h30" stroke="#131313" stroke-width="2.400" fill="none"/>
<text x="578.8" y="1372" font-size="17.5" fill="#111" stroke="#111" stroke-width="0.35" stroke-linejoin="round" font-weight="bold" textLength="30.50" lengthAdjust="spacingAndGlyphs" >메뉴</text>
<circle cx="425.300" cy="126" r="14.300" fill="#dff1f0"/>
<rect x="345" y="116.200" width="101.500" height="63" rx="9.500" fill="#fff" filter="url(#sh)"/>
<circle cx="360" cy="140" r="1.700" fill="#b9b9b9"/>
<circle cx="360" cy="148.3" r="1.700" fill="#b9b9b9"/>
<circle cx="360" cy="156.7" r="1.700" fill="#b9b9b9"/>
<circle cx="369.3" cy="140" r="1.700" fill="#b9b9b9"/>
<circle cx="369.3" cy="148.3" r="1.700" fill="#b9b9b9"/>
<circle cx="369.3" cy="156.7" r="1.700" fill="#b9b9b9"/>
<line x1="404.200" y1="159.400" x2="426.800" y2="136.200" stroke="#131313" stroke-width="2"/>
<circle cx="401.700" cy="162" r="3.500" fill="#fff" stroke="#131313" stroke-width="1.900"/>
<circle cx="429.300" cy="133.700" r="3.500" fill="#fff" stroke="#131313" stroke-width="1.900"/>
<rect x="461.500" y="110" width="36.500" height="36.200" rx="6" fill="#fff" stroke="#ebebeb" stroke-width="1.500"/>
<path d="M480.300 122.500v13.300M474.400 130.400l5.900 5.900 5.900-5.900" fill="none" stroke="#131313" stroke-width="1.900" stroke-linecap="round" stroke-linejoin="round"/>
<rect x="506" y="108.300" width="39" height="39.200" rx="6.500" fill="#2e2e2e"/>
<path d="M517.800 125.600v-1.100a4 4 0 0 1 4-4h8.100a4 4 0 0 1 4 4v1.100M517.800 131.100v1.100a4 4 0 0 0 4 4h8.100a4 4 0 0 0 4-4v-1.100" fill="none" stroke="#fff" stroke-width="2.200" stroke-linecap="round"/>
<rect x="559.900" y="109.400" width="92" height="40.200" rx="6.500" fill="#fff" stroke="#ebebeb" stroke-width="1.500"/>
<text x="566" y="135.8" font-size="18.7" fill="#131313" stroke="#131313" stroke-width="0.7" stroke-linejoin="round" textLength="39.20" lengthAdjust="spacingAndGlyphs" >USD</text>
<path d="M637.500 129.200l3.800 3.600 3.800-3.600" fill="none" stroke="#131313" stroke-width="2" stroke-linecap="round" stroke-linejoin="round"/>
</svg>
</div>
</body>
</html>
